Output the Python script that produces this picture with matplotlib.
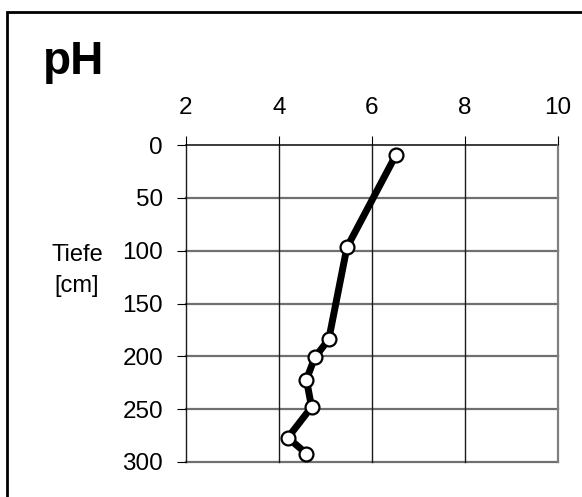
import matplotlib
matplotlib.use("Agg")
import matplotlib.pyplot as plt
from matplotlib.patches import Rectangle

# Data
ph_values = [6.52, 5.46, 5.07, 4.77, 4.59, 4.70, 4.19, 4.59]
depth_cm = [9, 97, 184, 201, 222, 248, 277, 292]
x_ticks = [2, 4, 6, 8, 10]
y_ticks = [0, 50, 100, 150, 200, 250, 300]

W, H = 582, 497
dpi = 100
fig = plt.figure(figsize=(W / dpi, H / dpi), dpi=dpi)
plt.rcParams['font.family'] = ['Liberation Sans', 'DejaVu Sans']

# outer frame
fig.patches.append(Rectangle((7 / W, -0.1), 1.2, 1 - 12 / H + 0.1,
                             transform=fig.transFigure, fill=False,
                             edgecolor='black', linewidth=2.0))

left, right, top, bottom = 186 / W, 558 / W, 1 - 145 / H, 1 - 462 / H
ax = fig.add_axes([left, bottom, right - left, top - bottom])
ax.set_xlim(2, 10)
ax.set_ylim(300, 0)

for s in ax.spines.values():
    s.set_visible(False)

# grid lines
for yt in y_ticks:
    col = '#1a1a1a' if yt == 0 else '#707070'
    lw = 1.2 if yt == 0 else 1.6
    ax.axhline(yt, color=col, linewidth=lw, zorder=1, clip_on=False)
for xt in x_ticks:
    col = '#808080' if xt == 10 else '#1a1a1a'
    lw = 1.6 if xt == 10 else 1.0
    ax.axvline(xt, color=col, linewidth=lw, zorder=1, clip_on=False)

ax.plot(ph_values, depth_cm, color='black', linewidth=5, zorder=3,
        marker='o', markersize=10, markerfacecolor='white',
        markeredgecolor='black', markeredgewidth=1.6, clip_on=False)

ax.xaxis.tick_top()
ax.set_xticks(x_ticks)
ax.set_yticks(y_ticks)
ax.set_xticklabels([str(v) for v in x_ticks])
ax.set_yticklabels([str(v) for v in y_ticks])
ax.tick_params(axis='x', direction='out', length=6.5, width=0.8, pad=12,
               labelsize=17.5, colors='black')
ax.tick_params(axis='y', direction='out', length=6.5, width=0.8, pad=10,
               labelsize=17.5, colors='black')

fig.text(43 / W, 1 - 62 / H, 'pH', fontsize=33, fontweight='bold',
         ha='left', va='center')
fig.text(77 / W, 1 - 255 / H, 'Tiefe', fontsize=17, ha='center', va='center')
fig.text(77 / W, 1 - 286 / H, '[cm]', fontsize=17, ha='center', va='center')

fig.savefig('out.png', dpi=dpi)
